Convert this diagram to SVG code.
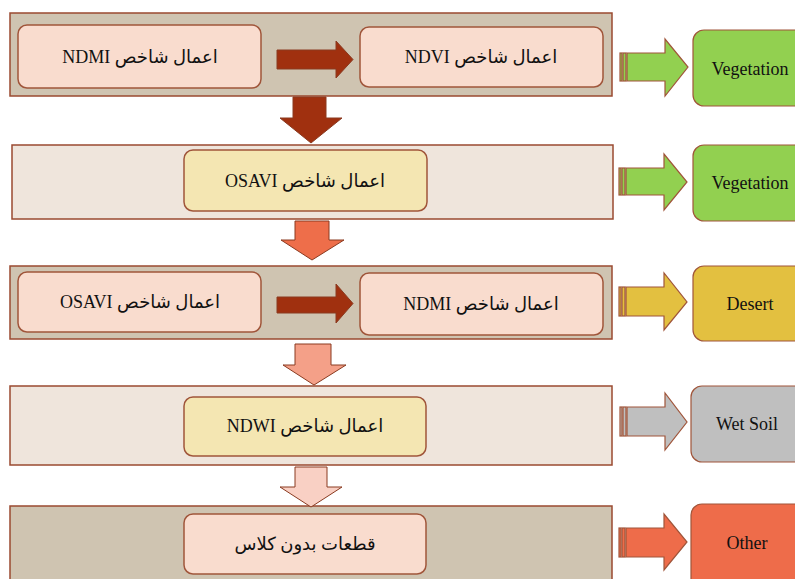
<svg xmlns="http://www.w3.org/2000/svg" width="795" height="579" viewBox="0 0 795 579">
<style>
.ct{stroke:#9a4a30;stroke-width:1.5}
.dk{fill:#cfc4b1}
.lt{fill:#efe5dc}
.ib{stroke:#a0553a;stroke-width:1.5}
.pk{fill:#f9dcce}
.yl{fill:#f4e6b2}
.t{font-family:"Liberation Serif","DejaVu Sans",serif;font-size:18px;fill:#111;text-anchor:middle}
.ar{stroke:#8a3a20;stroke-width:1}
.ao{stroke:#a0553a;stroke-width:1.2}
</style>
<rect width="795" height="579" fill="#fff"/>
<g id="row1">
<rect class="ct dk" x="10" y="13" width="602" height="83"/>
<g id="n-ndmi1"><rect class="ib pk" x="18" y="25" width="243" height="63" rx="9"/><text class="t" x="140" y="63" direction="rtl">اعمال شاخص NDMI</text></g>
<g id="n-ndvi"><rect class="ib pk" x="360" y="27" width="243" height="60" rx="9"/><text class="t" x="481" y="63" direction="rtl">اعمال شاخص NDVI</text></g>
</g>
<g id="row2">
<rect class="ct lt" x="12" y="145" width="601" height="74"/>
<g id="n-osavi1"><rect class="ib yl" x="184" y="150" width="243" height="61" rx="9"/><text class="t" x="305" y="187" direction="rtl">اعمال شاخص OSAVI</text></g>
</g>
<g id="row3">
<rect class="ct dk" x="10" y="266" width="602" height="73"/>
<g id="n-osavi2"><rect class="ib pk" x="18" y="272" width="243" height="60" rx="9"/><text class="t" x="140" y="308" direction="rtl">اعمال شاخص OSAVI</text></g>
<g id="n-ndmi2"><rect class="ib pk" x="360" y="273" width="243" height="62" rx="9"/><text class="t" x="481" y="310" direction="rtl">اعمال شاخص NDMI</text></g>
</g>
<g id="row4">
<rect class="ct lt" x="10" y="386" width="602" height="79"/>
<g id="n-ndwi"><rect class="ib yl" x="184" y="397" width="242" height="59" rx="9"/><text class="t" x="305" y="432" direction="rtl">اعمال شاخص NDWI</text></g>
</g>
<g id="row5">
<rect class="ct dk" x="10" y="506" width="602" height="80"/>
<g id="n-noclass"><rect class="ib pk" x="184" y="514" width="242" height="60" rx="9"/><text class="t" x="305" y="550" direction="rtl">قطعات بدون کلاس</text></g>
</g>
<g id="n-veg1"><rect class="ao" fill="#92d050" x="693" y="30" width="120" height="76" rx="11"/><text class="t" x="750" y="75">Vegetation</text></g>
<g id="n-veg2"><rect class="ao" fill="#92d050" x="693" y="145" width="120" height="76" rx="11"/><text class="t" x="750" y="189">Vegetation</text></g>
<g id="n-desert"><rect class="ao" fill="#e3c040" x="693" y="266" width="120" height="75" rx="11"/><text class="t" x="750" y="310">Desert</text></g>
<g id="n-wetsoil"><rect class="ao" fill="#bfbfbf" x="691" y="386" width="120" height="76" rx="11"/><text class="t" x="747" y="430">Wet Soil</text></g>
<g id="n-other"><rect class="ao" fill="#ee6c4a" x="691" y="504" width="120" height="90" rx="11"/><text class="t" x="747" y="549">Other</text></g>
<g id="connectors">
<path class="ar" fill="#a0300f" d="M277 50H336V41L353 59.5L336 78V69H277Z"/>
<path class="ar" fill="#a0300f" d="M277 297H336V284L353 303.5L336 323V313H277Z"/>
<path class="ar" fill="#a0300f" d="M293 97H326V118H342L311 143L280 118H293Z"/>
<path class="ar" fill="#ee6e4a" d="M295 221H329V240H344L312 260L281 240H295Z"/>
<path class="ar" fill="#f4a088" d="M295 344H331V365H346L314 385L283 365H295Z"/>
<path class="ar" fill="#f9d0c4" d="M295 467H327V487H342L311 507L280 487H295Z"/>
<g class="ao" fill="#92d050"><rect x="620" y="53" width="2" height="28"/><rect x="623" y="53" width="3" height="28"/><path d="M627 53H665V39L688 67L665 96V81H627Z"/></g>
<g class="ao" fill="#92d050"><rect x="619" y="168" width="2" height="27"/><rect x="622" y="168" width="3" height="27"/><path d="M626 168H664V154L687 182L664 210V195H626Z"/></g>
<g class="ao" fill="#e3c040"><rect x="619" y="287" width="2" height="29"/><rect x="622" y="287" width="3" height="29"/><path d="M626 287H664V273L687 302L664 330V316H626Z"/></g>
<g class="ao" fill="#bfbfbf"><rect x="620" y="407" width="2" height="29"/><rect x="623" y="407" width="3" height="29"/><path d="M627 407H665V393L687 422L665 450V436H627Z"/></g>
<g class="ao" fill="#ee6c4a"><rect x="619" y="528" width="2" height="29"/><rect x="622" y="528" width="3" height="29"/><path d="M626 528H664V514L687 542L664 570V557H626Z"/></g>
</g>
</svg>
